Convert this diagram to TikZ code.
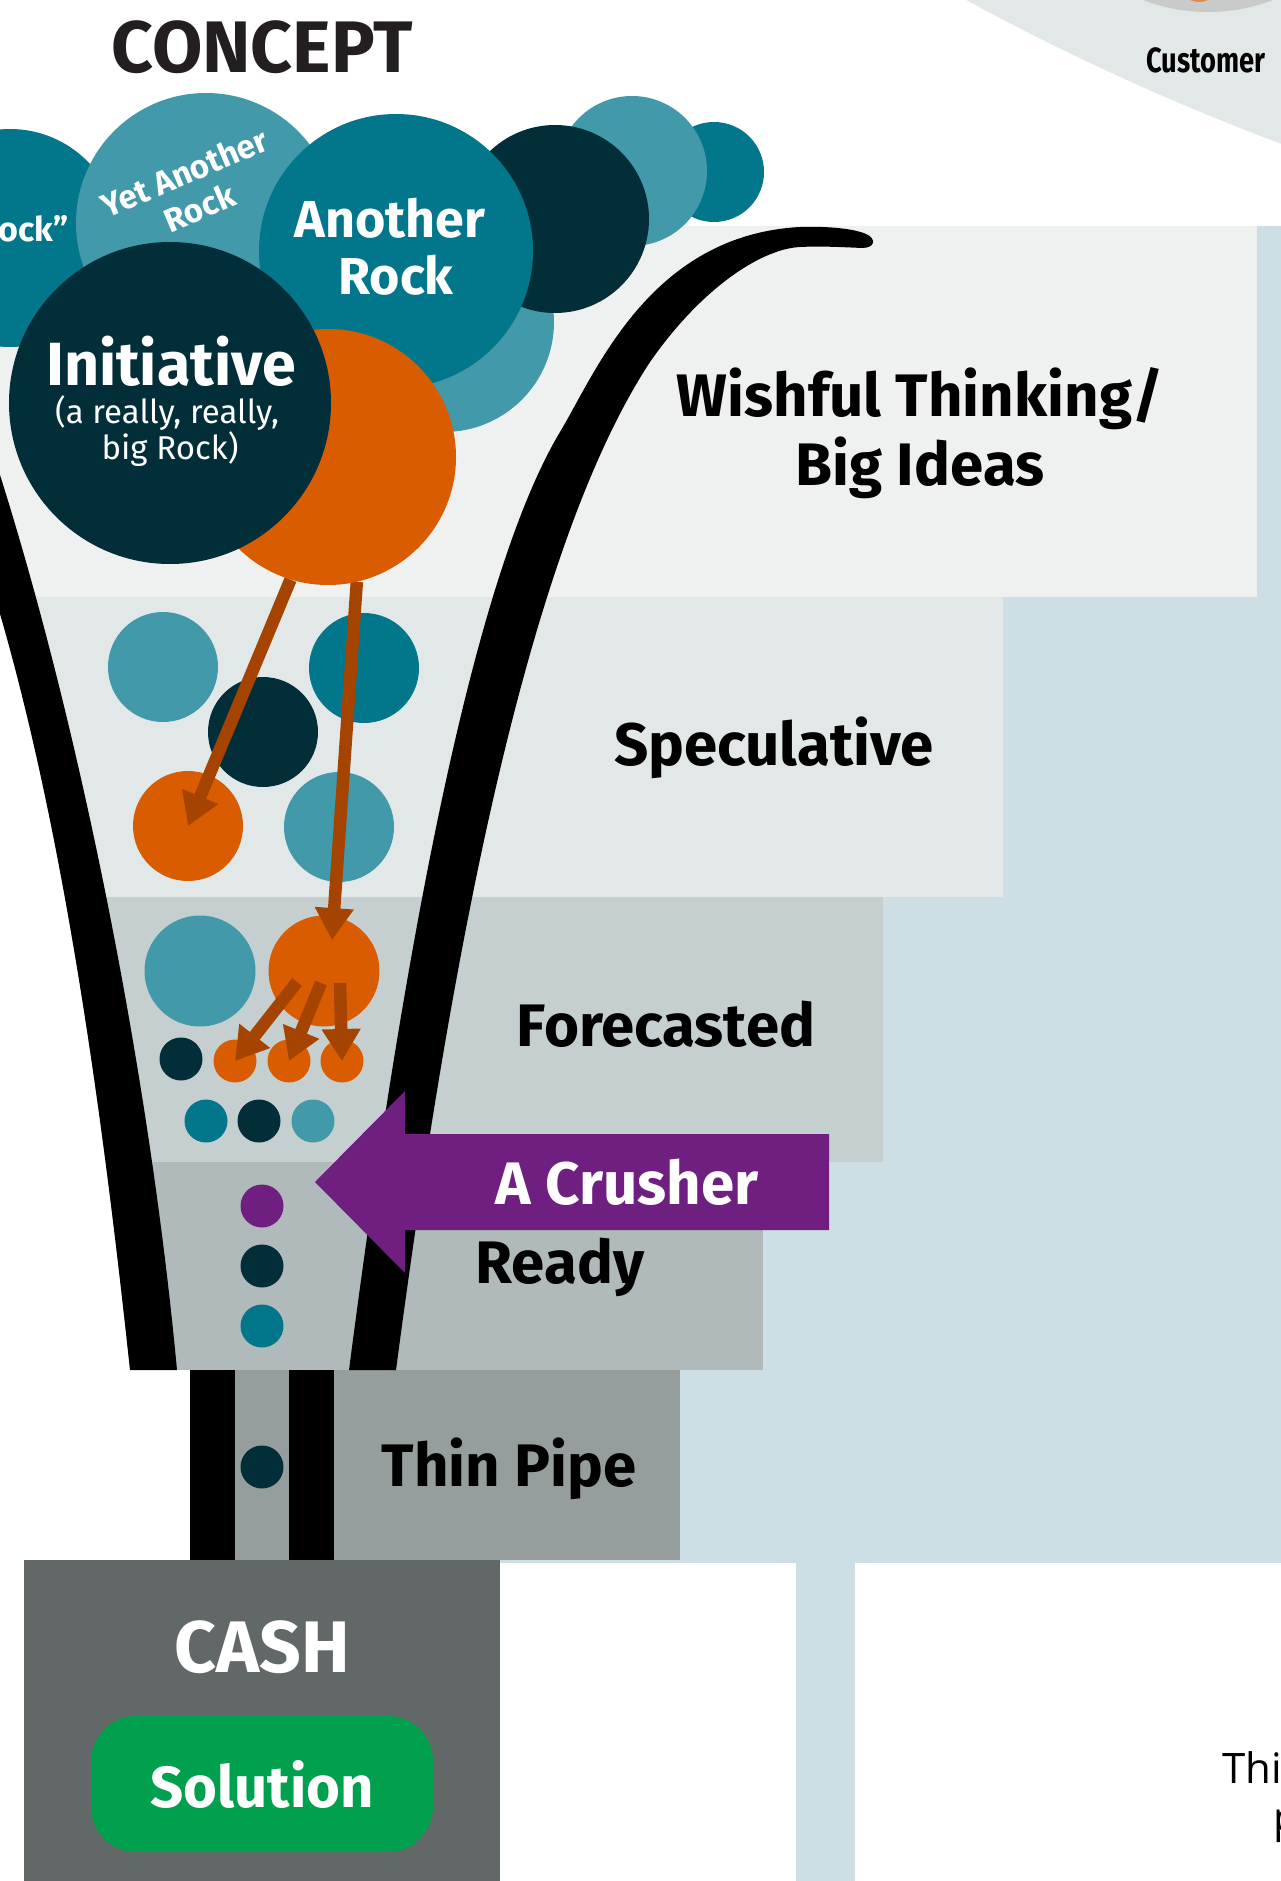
\documentclass[tikz,border=0pt]{standalone}
\usepackage{fontspec}
\setmainfont{Fira Sans}
\newfontfamily\condfont{Fira Sans}[FakeStretch=0.78]
\newfontfamily\notefont{Open Sans}
\usetikzlibrary{arrows.meta}
\definecolor{clteal}{HTML}{4299A9}
\definecolor{cteal}{HTML}{02768B}
\definecolor{cdark}{HTML}{022E3A}
\definecolor{corange}{HTML}{DA5C00}
\definecolor{cbrown}{HTML}{A44400}
\definecolor{cpurple}{HTML}{6E1F80}
\definecolor{cgreen}{HTML}{00A04E}
\definecolor{cbandA}{HTML}{EFF1F0}
\definecolor{cbandB}{HTML}{E2E8E8}
\definecolor{cbandC}{HTML}{C6CFD0}
\definecolor{cbandD}{HTML}{B1BABB}
\definecolor{cbandE}{HTML}{959E9D}
\definecolor{cblue}{HTML}{CDDFE5}
\definecolor{ccash}{HTML}{626868}
\definecolor{ccust}{HTML}{E2E8E8}
\definecolor{ccustdisc}{HTML}{C9CBCB}
\definecolor{ccustor}{HTML}{E08A50}
\definecolor{ctext}{HTML}{231F20}
\pgfdeclarelayer{back}
\pgfdeclarelayer{mid}
\pgfsetlayers{back,mid,main}
\begin{document}
\begin{tikzpicture}[x=1pt,y=-1pt,
  ball/.style 2 args={circle,fill=#1,inner sep=0pt,minimum size=#2},
  lbl/.style={anchor=base,inner sep=0pt,text=black,font={\bfseries\fontsize{60}{60}\selectfont}},
  wlbl/.style={anchor=base,inner sep=0pt,text=white},
  flow/.style={draw=cbrown,line width=12.5pt,-{Triangle[length=32pt,width=37pt]}}]
\useasboundingbox (0,0) rectangle (1281,1881);

\begin{pgfonlayer}{back}
\fill[white] (0,0) rectangle (1281,1881);
% customer area (top right)
\fill[ccust] (2149,-2178) circle[radius=2478pt];
\fill[ccustdisc] (1208,-170) circle[radius=182pt];
\fill[ccustor] (1199,-19) circle[radius=21pt];
% background and bands
\fill[cblue] (500,226) rectangle (1281,1563);
\fill[cblue] (796,1563) rectangle (855,1881);
\fill[cbandA] (0,226) rectangle (1257,597);
\fill[cbandB] (0,597) rectangle (1003,897);
\fill[cbandC] (0,897) rectangle (883,1162);
\fill[cbandD] (0,1162) rectangle (763,1370);
\fill[cbandE] (190,1370) rectangle (680,1560);
% white outside the funnel (left)
\fill[white] (130,1370) .. controls (100,1090) and (55,760) .. (-30,520) -- (-30,1370) -- cycle;
% funnel walls
\fill[black] (130,1370) .. controls (100,1090) and (55,760) .. (-30,520) -- (-40,440) -- (-8,450)
  .. controls (80,720) and (150,1080) .. (177,1370) -- cycle;
\fill[black] (349,1370) .. controls (401,970) and (470,582) .. (560,432)
  .. controls (596,372) and (650,235) .. (800,227)
  .. controls (830,226) and (855,229) .. (866,234)
  .. controls (876,238) and (876,248) .. (862,248)
  .. controls (840,247) and (820,246) .. (800,247)
  .. controls (760,249) and (700,290) .. (650,362)
  .. controls (520,560) and (445,1000) .. (396,1370) -- cycle;
% thin pipe walls
\fill[black] (190,1370) rectangle (235,1561);
\fill[black] (289,1370) rectangle (334,1561);
% cash box
\fill[ccash] (24,1560) rectangle (500,1890);
% rocks inside the funnel
\node[ball={clteal}{110pt}] (s1) at (163,667) {};
\node[ball={cteal}{110pt}] (s2) at (364,668) {};
\node[ball={cdark}{110pt}] (s3) at (263,732) {};
\node[ball={corange}{110pt}] (s4) at (188,826) {};
\node[ball={clteal}{110pt}] (s5) at (339,827) {};
\node[ball={clteal}{111pt}] (f1) at (200,971) {};
\node[ball={corange}{111pt}] (f2) at (324,971) {};
\node[ball={cdark}{43pt}] (d1) at (181,1059) {};
\node[ball={corange}{43pt}] (d2) at (235,1061) {};
\node[ball={corange}{43pt}] (d3) at (289,1061) {};
\node[ball={corange}{43pt}] (d4) at (342,1061) {};
\node[ball={cteal}{43pt}] (d5) at (206,1121) {};
\node[ball={cdark}{43pt}] (d6) at (259,1121) {};
\node[ball={clteal}{43pt}] (d7) at (313,1121) {};
\node[ball={cpurple}{43pt}] (r1) at (262,1206) {};
\node[ball={cdark}{43pt}] (r2) at (262,1266) {};
\node[ball={cteal}{43pt}] (r3) at (262,1326) {};
\node[ball={cdark}{43pt}] (p1) at (262,1467) {};
% crusher arrow
\fill[cpurple] (315,1182) -- (405,1091) -- (405,1134) -- (829,1134) -- (829,1230)
  -- (405,1230) -- (405,1273) -- cycle;
\end{pgfonlayer}

% rocks on top (concept)
\node[ball={cteal}{100pt}] (r7) at (714,172) {};
\node[ball={clteal}{150pt}] (r6) at (632,171) {};
\node[ball={cteal}{218pt}] (rock0) at (10,238) {};
\node[ball={clteal}{260pt}] (yetrock) at (206,223) {};
\node[ball={clteal}{220pt}] (r5) at (444,322) {};
\node[ball={cdark}{188pt}] (r4) at (555,219) {};
\node[ball={cteal}{274pt}] (another) at (396,251) {};
\node[ball={corange}{256pt}] (bigorange) at (328,457) {};
\node[ball={cdark}{322pt}] (initiative) at (170,403) {};

% flows
\coordinate (t3) at (297,982);
\coordinate (t4) at (321,983);
\coordinate (t5) at (340,983);
\begin{pgfonlayer}{mid}
\draw[flow] (bigorange.253) -- (s4.center);
\draw[flow, shorten >=-24pt] (bigorange.-77) -- (f2.80);
\end{pgfonlayer}
\draw[flow] (t3) -- (d2.center);
\draw[flow] (t4) -- (d3.center);
\draw[flow] (t5) -- (d4.center);

% texts
\node[anchor=base,inner sep=0pt,text=ctext,font={\bfseries\fontsize{73}{73}\selectfont}] (concept) at (262,73) {CONCEPT};
\node[anchor=base,inner sep=0pt,text=black,font={\condfont\bfseries\fontsize{35}{35}\selectfont}] (customer) at (1206,73) {Customer};
\node[wlbl,anchor=base east,font={\bfseries\fontsize{34}{34}\selectfont}] (rocktxt) at (69,241) {“Rock”};
\node[text=white,inner sep=0pt,rotate=23,align=center,font={\bfseries\fontsize{33}{38}\selectfont}] (yettxt) at (192,190) {Yet Another\\Rock};
\node[wlbl,font={\bfseries\fontsize{52}{52}\selectfont}] (anoth1) at (390,237) {Another};
\node[wlbl,font={\bfseries\fontsize{52}{52}\selectfont}] (anoth2) at (396,294) {Rock};
\node[wlbl,font={\bfseries\fontsize{61}{61}\selectfont}] (init1) at (171,385) {Initiative};
\node[wlbl,font={\fontsize{33}{33}\selectfont}] (init2) at (167,423) {(a really, really,};
\node[wlbl,font={\fontsize{33}{33}\selectfont}] (init3) at (170,459) {big Rock)};
\node[lbl] (wish1) at (920,416) {Wishful Thinking/};
\node[lbl] (wish2) at (920,485) {Big Ideas};
\node[lbl] (spec) at (774,765) {Speculative};
\node[lbl] (fore) at (666,1046) {Forecasted};
\node[wlbl,font={\bfseries\fontsize{60}{60}\selectfont}] (crusher) at (627,1204) {A Crusher};
\node[lbl] (ready) at (560,1283) {Ready};
\node[lbl] (pipe) at (509,1486) {Thin Pipe};
\node[wlbl,font={\bfseries\fontsize{73}{73}\selectfont}] (cash) at (262,1672) {CASH};
\node[fill=cgreen,rounded corners=45pt,minimum width=342pt,minimum height=136pt,inner sep=0pt,
  text=white,font={\bfseries\fontsize{58}{58}\selectfont}] (solution) at (262,1784) {Solution};
\node[anchor=base west,inner sep=0pt,font={\notefont\fontsize{42}{42}\selectfont}] (note1) at (1222,1783) {Thin};
\node[anchor=base west,inner sep=0pt,font={\notefont\fontsize{42}{42}\selectfont}] (note2) at (1273,1832) {p};
\end{tikzpicture}
\end{document}
